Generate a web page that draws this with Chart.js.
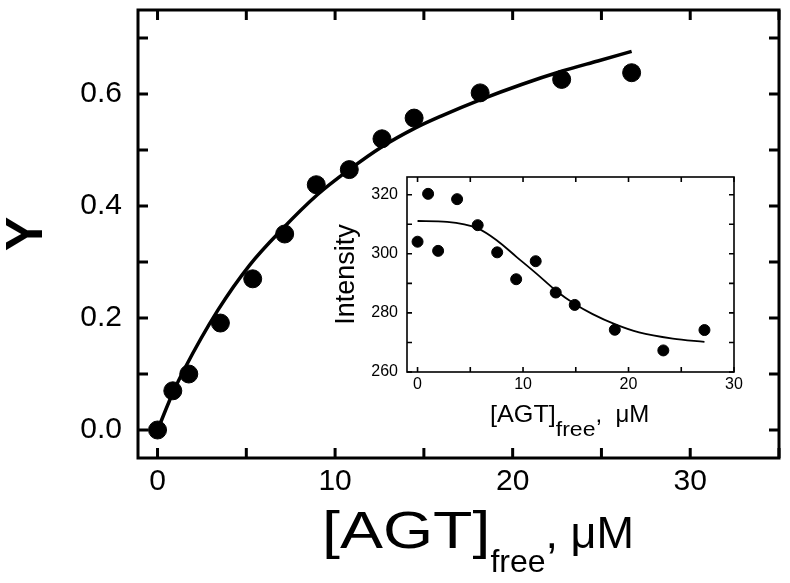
<!DOCTYPE html>
<html>
<head>
<meta charset="utf-8">
<script src="https://cdn.jsdelivr.net/npm/chart.js@4.4.1/dist/chart.umd.min.js"></script>
<style>
  body { margin: 0; background: #fff; }
  #wrap { position: relative; width: 790px; height: 583px; }
  #main { position: absolute; left: 0; top: 0; }
  #inset { position: absolute; left: 320px; top: 165px; }
</style>
</head>
<body>
<div id="wrap">
  <canvas id="main" width="790" height="583"></canvas>
  <canvas id="inset" width="430" height="290"></canvas>
</div>
<script>
const FONT = '"Liberation Sans", Arial, Helvetica, sans-serif';

// main plot: fraction bound vs free AGT
const agtFree = [0, 0.86, 1.76, 3.54, 5.36, 7.16, 8.94, 10.8, 12.64, 14.45, 18.17, 22.76, 26.7];
const yBound = [0, 0.070, 0.100, 0.191, 0.270, 0.350, 0.438, 0.465, 0.520, 0.557, 0.602, 0.626, 0.638];
const fitAgt = [0, 0.86, 1.5, 3.4, 5.2, 7.0, 9.0, 10.8, 12.6, 14.5, 16.0, 18.2, 20.5, 22.8, 24.8, 26.7];
const fitY = [0, 0.066, 0.108, 0.214, 0.295, 0.358, 0.420, 0.465, 0.505, 0.539, 0.561, 0.590, 0.617, 0.641, 0.659, 0.676];

// inset: fluorescence intensity
const insetAgt = [0, 1.0, 1.95, 3.75, 5.7, 7.55, 9.35, 11.2, 13.1, 14.9, 18.7, 23.3, 27.2];
const intensity = [304.1, 320.3, 301.0, 318.5, 309.7, 300.5, 291.4, 297.5, 286.9, 282.7, 274.3, 267.3, 274.2];
const insetFitAgt = [0, 2.8, 5.7, 7.5, 9.4, 11.3, 13.1, 14.9, 16.6, 18.7, 21.0, 24.2, 27.2];
const insetFitI = [311.1, 310.8, 308.6, 304.6, 298.9, 293.2, 287.6, 283.0, 279.6, 276.2, 273.4, 271.3, 270.2];

const mainXTicks = [0, 5, 10, 15, 20, 25, 30, 35];
const mainYTicks = [0, 0.1, 0.2, 0.3, 0.4, 0.5, 0.6, 0.7];
const insetXTicks = [0, 5, 10, 15, 20, 25, 30];
const insetYTicks = [260, 270, 280, 290, 300, 310, 320];

const pts = (xs, ys) => xs.map((x, i) => ({ x: x, y: ys[i] }));

// frame with inward ticks on all four sides
const frameTicks = {
  id: 'frameTicks',
  afterDatasetsDraw(chart, args, opts) {
    const { ctx, chartArea: a, scales: { x, y } } = chart;
    ctx.save();
    ctx.strokeStyle = '#000';
    ctx.lineWidth = opts.width;
    ctx.beginPath();
    x.ticks.forEach(t => {
      const px = x.getPixelForValue(t.value);
      ctx.moveTo(px, a.bottom); ctx.lineTo(px, a.bottom - opts.len);
      ctx.moveTo(px, a.top); ctx.lineTo(px, a.top + opts.len);
    });
    y.ticks.forEach(t => {
      const py = y.getPixelForValue(t.value);
      ctx.moveTo(a.left, py); ctx.lineTo(a.left + opts.len, py);
      ctx.moveTo(a.right, py); ctx.lineTo(a.right - opts.len, py);
    });
    ctx.stroke();
    ctx.strokeRect(a.left, a.top, a.right - a.left, a.bottom - a.top);
    ctx.restore();
  }
};

// x axis title with a "free" subscript
const subTitle = {
  id: 'subTitle',
  afterDraw(chart, args, opts) {
    const ctx = chart.ctx;
    ctx.save();
    ctx.fillStyle = '#000';
    ctx.textBaseline = 'alphabetic';
    ctx.textAlign = 'left';
    let x = opts.x;
    opts.parts.forEach(p => {
      const sx = p.sx || 1;
      ctx.font = p.size + 'px ' + FONT;
      ctx.save();
      ctx.translate(x, opts.y + (p.dy || 0));
      ctx.scale(sx, 1);
      ctx.fillText(p.text, 0, 0);
      ctx.restore();
      x += ctx.measureText(p.text).width * sx;
    });
    ctx.restore();
  }
};

const noPadX = s => { s.paddingLeft = 0; s.paddingRight = 0; };
const noPadY = s => { s.paddingTop = 0; s.paddingBottom = 0; };

new Chart('main', {
  type: 'scatter',
  data: {
    datasets: [
      {
        data: pts(fitAgt, fitY),
        showLine: true,
        borderColor: '#000',
        borderWidth: 3.5,
        pointRadius: 0,
        cubicInterpolationMode: 'monotone',
      },
      {
        data: pts(agtFree, yBound),
        backgroundColor: '#000',
        borderColor: '#000',
        pointRadius: 9,
      },
    ],
  },
  options: {
    responsive: false,
    animation: false,
    devicePixelRatio: 1,
    layout: { padding: { left: 0, top: 10, right: 11, bottom: 0 } },
    plugins: {
      legend: { display: false },
      tooltip: { enabled: false },
      frameTicks: { width: 3, len: 10 },
      subTitle: {
        x: 322, y: 548,
        parts: [
          { text: '[AGT]', size: 52, sx: 1.24 },
          { text: 'free', size: 32, dy: 24 },
          { text: ', μM', size: 45 },
        ],
      },
    },
    scales: {
      x: {
        type: 'linear',
        min: -1.1,
        max: 35,
        afterBuildTicks: s => { s.ticks = mainXTicks.map(v => ({ value: v })); },
        afterFit: s => { s.height = 125; noPadX(s); },
        grid: { display: false, drawTicks: false },
        border: { display: false },
        ticks: {
          color: '#000',
          padding: 6,
          font: { family: FONT, size: 30 },
          callback: v => (v % 10 === 0 ? String(v) : ''),
        },
      },
      y: {
        min: -0.05,
        max: 0.75,
        afterBuildTicks: s => { s.ticks = mainYTicks.map(v => ({ value: v })); },
        afterFit: s => { s.width = 138; noPadY(s); },
        grid: { display: false, drawTicks: false },
        border: { display: false },
        title: {
          display: true,
          text: 'Y',
          color: '#000',
          font: { family: FONT, size: 52, weight: 'bold', lineHeight: 1 },
          padding: { top: 2, bottom: 0 },
        },
        ticks: {
          color: '#000',
          padding: 16,
          font: { family: FONT, size: 30 },
          callback: v => (Math.round(v * 10) % 2 === 0 ? v.toFixed(1) : ''),
        },
      },
    },
  },
  plugins: [frameTicks, subTitle],
});

new Chart('inset', {
  type: 'scatter',
  data: {
    datasets: [
      {
        data: pts(insetFitAgt, insetFitI),
        showLine: true,
        borderColor: '#000',
        borderWidth: 1.8,
        pointRadius: 0,
        cubicInterpolationMode: 'monotone',
      },
      {
        data: pts(insetAgt, intensity),
        backgroundColor: '#000',
        borderColor: '#000',
        pointRadius: 5.5,
      },
    ],
  },
  options: {
    responsive: false,
    animation: false,
    devicePixelRatio: 1,
    layout: { padding: { left: 0, top: 12, right: 16, bottom: 0 } },
    plugins: {
      legend: { display: false },
      tooltip: { enabled: false },
      frameTicks: { width: 1.6, len: 5 },
      subTitle: {
        x: 170, y: 257,
        parts: [
          { text: '[AGT]', size: 24, sx: 1.05 },
          { text: 'free', size: 20, dy: 14, sx: 1.15 },
          { text: ',  μM', size: 24 },
        ],
      },
    },
    scales: {
      x: {
        type: 'linear',
        min: -1,
        max: 30,
        afterBuildTicks: s => { s.ticks = insetXTicks.map(v => ({ value: v })); },
        afterFit: s => { s.height = 83; noPadX(s); },
        grid: { display: false, drawTicks: false },
        border: { display: false },
        ticks: {
          color: '#000',
          padding: 3,
          font: { family: FONT, size: 16 },
          callback: v => (v % 10 === 0 ? String(v) : ''),
        },
      },
      y: {
        min: 260,
        max: 326,
        afterBuildTicks: s => { s.ticks = insetYTicks.map(v => ({ value: v })); },
        afterFit: s => { s.width = 87; noPadY(s); },
        grid: { display: false, drawTicks: false },
        border: { display: false },
        title: {
          display: true,
          text: 'Intensity',
          color: '#000',
          font: { family: FONT, size: 27, lineHeight: 1 },
          padding: { top: 13, bottom: 0 },
        },
        ticks: {
          color: '#000',
          padding: 9,
          font: { family: FONT, size: 16 },
          callback: v => (v % 20 === 0 ? String(v) : ''),
        },
      },
    },
  },
  plugins: [frameTicks, subTitle],
});
</script>
</body>
</html>
